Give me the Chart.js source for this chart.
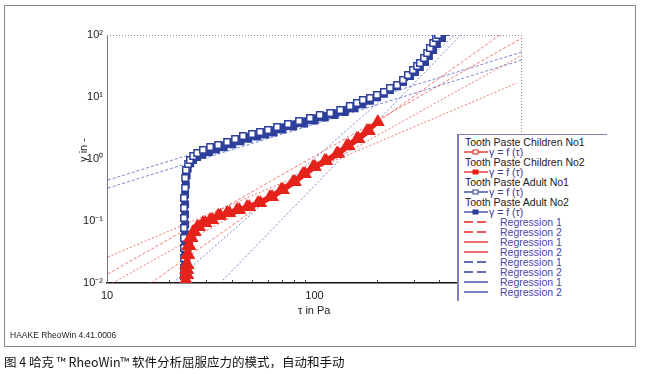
<!DOCTYPE html>
<html lang="zh">
<head>
<meta charset="UTF-8">
<title>RheoWin 屈服应力</title>
<script src="https://cdn.jsdelivr.net/npm/chart.js"></script>
<style>
  body { margin: 0; background: #fff; font-family: 'Liberation Sans', Arial, sans-serif; }
  #wrap { position: relative; width: 646px; height: 374px; overflow: hidden; }
  #frame { position: absolute; left: 4px; top: 5px; width: 632px; height: 342px; border: 1px solid #8a8a8a; box-sizing: border-box; }
  #chart-box { position: absolute; left: 0; top: 0; width: 646px; height: 374px; }
  .axis-title { position: absolute; font-size: 11px; color: #222; white-space: nowrap; }
  #ytitle { left: 65px; top: 144px; width: 36px; text-align: center; transform: rotate(-90deg); }
  #xtitle { left: 298px; top: 304px; }
  #legend { position: absolute; left: 457px; top: 135px; width: 176px; height: 166px; background: #fff;
            border-left: 2px solid #8080bb; box-sizing: border-box; font-size: 10.5px; padding-top: 2px; }
  #legend-top { position: absolute; left: 457px; top: 134px; width: 150px; height: 2px; background: #8080bb; }
  .row { height: 10px; line-height: 10px; white-space: nowrap; position: relative; }
  .row.title { padding-left: 6px; color: #222; }
  .row svg { position: absolute; left: 4px; top: 0; }
  .row .gf { position: absolute; left: 30px; color: #3a3a8c; }
  .row .reg { position: absolute; left: 41px; color: #4646a6; }
  #footer { position: absolute; left: 10px; top: 330px; font-size: 8.5px; color: #222; }
  #caption { position: absolute; left: 4px; top: 352px; font-size: 12.5px; color: #111;
             font-family: 'Noto Sans CJK SC', 'Liberation Sans', sans-serif; white-space: nowrap; }
</style>
</head>
<body>
<div id="wrap">
  <div id="frame"></div>
  <div id="chart-box"><canvas id="myChart"></canvas></div>
  <div class="axis-title" id="ytitle">γ in -</div>
  <div class="axis-title" id="xtitle">τ in Pa</div>
  <div id="legend-top"></div>
  <div id="legend"></div>
  <div id="footer">HAAKE RheoWin 4.41.0006</div>
  <div id="caption">图 4 哈克 ™ RheoWin™ 软件分析屈服应力的模式，自动和手动</div>
</div>
<script>
// axis ticks
const xTickValues = [10, 100, 1000];
const xTickLabels = ['10', '100', '1000'];
const xMinorTicks = [20, 30, 40, 50, 60, 70, 80, 90, 200, 300, 400, 500, 600, 700, 800, 900];
const yTickValues = [0.01, 0.1, 1, 10, 100];
const yTickLabels = ['10⁻²', '10⁻¹', '10⁰', '10¹', '10²'];

// Tooth Paste Children No1 / No2 (tau in Pa, gamma)
const childTau1 = [24.0, 24.0, 24.0, 24.0, 24.1, 24.3, 24.6, 25.1, 26.0, 27.2, 29.0, 31.4, 34.3, 37.9, 42.3, 47.3, 53.4, 61.0, 69.0, 78.8, 88.0, 98.4, 112, 128, 143, 160, 179, 202];
const childGamma1 = [0.0093, 0.0112, 0.0135, 0.0162, 0.0195, 0.0283, 0.0395, 0.0532, 0.0665, 0.080, 0.093, 0.104, 0.121, 0.135, 0.150, 0.168, 0.195, 0.244, 0.316, 0.426, 0.573, 0.743, 0.929, 1.21, 1.62, 2.10, 2.83, 3.95];
const childTau2 = [24.4, 24.4, 24.4, 24.5, 24.7, 25.0, 25.6, 26.5, 27.8, 29.8, 32.2, 35.2, 38.9, 43.4, 48.5, 54.8, 62.5, 70.5, 80.5, 90.0, 100.5, 114, 130, 146, 163, 183];
const childGamma2 = [0.0093, 0.0135, 0.0162, 0.0195, 0.0283, 0.0395, 0.0532, 0.0665, 0.080, 0.093, 0.104, 0.121, 0.135, 0.150, 0.168, 0.195, 0.244, 0.316, 0.426, 0.573, 0.743, 0.929, 1.21, 1.62, 2.10, 2.83];

// Tooth Paste Adult No1 / No2
const adultTau1 = [23.5, 23.5, 23.5, 23.5, 23.5, 23.5, 23.5, 23.5, 23.5, 23.8, 23.8, 24.0, 24.6, 25.1, 26.0, 27.2, 29.0, 31.4, 34.3, 37.9, 41.4, 45.2, 50.0, 54.6, 59.7, 66.0, 74.5, 84.2, 95.1, 106, 119, 133, 148, 160, 171, 185, 200, 216, 231, 250, 267, 282, 298, 312, 322, 337, 349, 360, 373, 385, 394, 403];
const adultGamma1 = [0.013, 0.0175, 0.0253, 0.0367, 0.0532, 0.0771, 0.112, 0.162, 0.235, 0.340, 0.494, 0.665, 0.830, 0.964, 1.12, 1.25, 1.40, 1.56, 1.68, 1.88, 2.10, 2.35, 2.53, 2.73, 2.94, 3.28, 3.67, 4.10, 4.58, 5.13, 5.52, 6.17, 7.16, 8.00, 8.95, 9.64, 10.8, 12.1, 14.0, 15.6, 18.8, 22.6, 27.3, 31.6, 35.3, 42.6, 51.3, 61.7, 74.3, 89.5, 100, 116];
const adultTau2 = [23.8, 23.8, 23.8, 23.8, 23.8, 23.8, 23.8, 23.8, 23.8, 24.0, 24.2, 24.5, 25.2, 26.0, 27.2, 28.8, 31.0, 33.5, 36.5, 40.2, 44.0, 48.0, 53.0, 58.0, 63.5, 70.0, 79.0, 89.0, 100, 112, 125, 140, 156, 170, 185, 200, 216, 231, 250, 267, 289, 305, 322, 341, 356, 373, 389, 412, 430];
const adultGamma2 = [0.015, 0.020, 0.029, 0.042, 0.061, 0.088, 0.128, 0.185, 0.268, 0.385, 0.540, 0.700, 0.850, 0.960, 1.07, 1.17, 1.29, 1.42, 1.55, 1.72, 1.92, 2.12, 2.30, 2.48, 2.68, 2.98, 3.33, 3.72, 4.18, 4.65, 5.10, 5.70, 6.55, 7.60, 8.70, 9.90, 11.3, 12.9, 14.9, 17.4, 21.8, 25.3, 30.5, 36.7, 45.8, 57.3, 71.6, 89.5, 112];

// regression lines (end points, tau / gamma)
const regChildDash1Tau = [16.3, 783], regChildDash1Gamma = [0.01, 100];
const regChildDash2Tau = [10.1, 1000], regChildDash2Gamma = [0.014, 89.5];
const regChildSolid1Tau = [10.6, 1000], regChildSolid1Gamma = [0.01, 47.6];
const regChildSolid2Tau = [10.1, 946], regChildSolid2Gamma = [0.0262, 16.8];
const regAdultDash1Tau = [10.1, 1000], regAdultDash1Gamma = [0.458, 53.2];
const regAdultDash2Tau = [10.1, 1000], regAdultDash2Gamma = [0.340, 39.5];
const regAdultSolid1Tau = [20.8, 475], regAdultSolid1Gamma = [0.01, 100];
const regAdultSolid2Tau = [35.1, 508], regAdultSolid2Gamma = [0.01, 100];

const RED = '#e5231b';
const BLUE = '#2c3f9a';
const RED_REG = 'rgba(232, 60, 50, 0.7)';
const BLUE_REG = 'rgba(70, 85, 190, 0.7)';

function pts(tau, gamma) {
    return tau.map((t, i) => ({ x: t, y: gamma[i] }));
}

function regLine(tau, gamma, color, dash) {
    return {
        label: 'Regression',
        data: pts(tau, gamma),
        showLine: true,
        borderColor: color,
        borderWidth: 1,
        borderDash: dash,
        pointRadius: 0,
        fill: false
    };
}

const datasets = [
    {
        label: 'Tooth Paste Children No1',
        data: pts(childTau1, childGamma1),
        showLine: true, borderColor: RED, borderWidth: 5,
        pointStyle: 'triangle', pointRadius: 3,
        pointBackgroundColor: RED, pointBorderColor: RED
    },
    {
        label: 'Tooth Paste Children No2',
        data: pts(childTau2, childGamma2),
        showLine: true, borderColor: RED, borderWidth: 5,
        pointStyle: 'triangle', pointRadius: 3,
        pointBackgroundColor: RED, pointBorderColor: RED
    },
    {
        label: 'Tooth Paste Adult No1',
        data: pts(adultTau1, adultGamma1),
        showLine: true, borderColor: BLUE, borderWidth: 4,
        pointStyle: 'rect', pointRadius: 4.5, pointBorderWidth: 1.5,
        pointBackgroundColor: '#ffffff', pointBorderColor: BLUE
    },
    {
        label: 'Tooth Paste Adult No2',
        data: pts(adultTau2, adultGamma2),
        showLine: true, borderColor: BLUE, borderWidth: 4,
        pointStyle: 'rect', pointRadius: 4.5, pointBorderWidth: 1.5,
        pointBackgroundColor: BLUE, pointBorderColor: BLUE
    },
    regLine(regChildDash1Tau, regChildDash1Gamma, RED_REG, [3, 2]),
    regLine(regChildDash2Tau, regChildDash2Gamma, RED_REG, [3, 2]),
    regLine(regChildSolid1Tau, regChildSolid1Gamma, RED_REG, [2, 2]),
    regLine(regChildSolid2Tau, regChildSolid2Gamma, RED_REG, [2, 2]),
    regLine(regAdultDash1Tau, regAdultDash1Gamma, BLUE_REG, [3, 2]),
    regLine(regAdultDash2Tau, regAdultDash2Gamma, BLUE_REG, [3, 2]),
    regLine(regAdultSolid1Tau, regAdultSolid1Gamma, BLUE_REG, [2, 2]),
    regLine(regAdultSolid2Tau, regAdultSolid2Gamma, BLUE_REG, [2, 2])
];

// dotted top/right frame of the plot + small inward ticks on the x axis
const plotFrame = {
    id: 'plotFrame',
    beforeDatasetsDraw(chart) {
        const { ctx, chartArea: a, scales } = chart;
        ctx.save();
        ctx.strokeStyle = '#8c8c8c';
        ctx.lineWidth = 1;
        ctx.setLineDash([1, 2]);
        ctx.beginPath();
        ctx.moveTo(a.left, a.top + 0.5);
        ctx.lineTo(a.right, a.top + 0.5);
        ctx.moveTo(a.right - 0.5, a.top);
        ctx.lineTo(a.right - 0.5, a.bottom);
        ctx.stroke();
        ctx.setLineDash([]);
        ctx.strokeStyle = '#333';
        ctx.beginPath();
        xMinorTicks.forEach(v => {
            const px = Math.round(scales.x.getPixelForValue(v)) + 0.5;
            ctx.moveTo(px, a.bottom);
            ctx.lineTo(px, a.bottom - 3);
        });
        ctx.stroke();
        ctx.restore();
    }
};

const ctx = document.getElementById('myChart').getContext('2d');
const myChart = new Chart(ctx, {
    type: 'scatter',
    data: { datasets: datasets },
    plugins: [plotFrame],
    options: {
        responsive: true,
        maintainAspectRatio: false,
        animation: false,
        layout: { padding: { top: 35, right: 124, left: 0, bottom: 0 } },
        plugins: { legend: { display: false }, tooltip: { enabled: false } },
        scales: {
            x: {
                type: 'logarithmic', min: 10, max: 1000,
                afterFit: s => { s.height = 91; },
                afterBuildTicks: s => { s.ticks = xTickValues.map(v => ({ value: v })); },
                grid: { display: false, drawTicks: false },
                border: { display: true, color: '#111', width: 1.5 },
                ticks: {
                    autoSkip: false, maxRotation: 0, padding: 6, color: '#222',
                    font: { family: 'Liberation Sans', size: 11 },
                    callback: (v, i) => xTickLabels[i]
                }
            },
            y: {
                type: 'logarithmic', min: 0.01, max: 100,
                afterFit: s => { s.width = 107; },
                afterBuildTicks: s => { s.ticks = yTickValues.map(v => ({ value: v })); },
                grid: { display: false, drawTicks: false },
                border: { display: true, color: '#777', width: 1, dash: [1, 3] },
                ticks: {
                    autoSkip: false, padding: 4, color: '#222',
                    font: { family: 'Liberation Sans', size: 11 },
                    callback: (v, i) => yTickLabels[i]
                }
            }
        }
    }
});

// legend (html)
const legendRows = [
    { title: 'Tooth Paste Children No1' },
    { color: RED, marker: 'open', text: 'γ = f (τ)' },
    { title: 'Tooth Paste Children No2' },
    { color: RED, marker: 'filled', text: 'γ = f (τ)' },
    { title: 'Tooth Paste Adult No1' },
    { color: BLUE, marker: 'open', text: 'γ = f (τ)' },
    { title: 'Tooth Paste Adult No2' },
    { color: BLUE, marker: 'filled', text: 'γ = f (τ)' },
    { color: RED, dash: true, reg: 'Regression 1' },
    { color: RED, dash: true, reg: 'Regression 2' },
    { color: RED, dash: false, reg: 'Regression 1' },
    { color: RED, dash: false, reg: 'Regression 2' },
    { color: BLUE, dash: true, reg: 'Regression 1' },
    { color: BLUE, dash: true, reg: 'Regression 2' },
    { color: BLUE, dash: false, reg: 'Regression 1' },
    { color: BLUE, dash: false, reg: 'Regression 2' }
];

const legend = document.getElementById('legend');
legendRows.forEach(r => {
    const row = document.createElement('div');
    if (r.title) {
        row.className = 'row title';
        row.textContent = r.title;
    } else if (r.text) {
        row.className = 'row';
        const fill = r.marker === 'filled' ? r.color : '#fff';
        row.innerHTML = '<svg width="26" height="10"><line x1="1" y1="5" x2="25" y2="5" stroke="' + r.color + '" stroke-width="1.3"/>' +
            '<rect x="10" y="3" width="5" height="4" fill="' + fill + '" stroke="' + r.color + '" stroke-width="1"/></svg>' +
            '<span class="gf">' + r.text + '</span>';
    } else {
        row.className = 'row';
        const dash = r.dash ? ' stroke-dasharray="9,4"' : '';
        row.innerHTML = '<svg width="26" height="10"><line x1="1" y1="5" x2="25" y2="5" stroke="' + r.color + '" stroke-width="1.3"' + dash + '/></svg>' +
            '<span class="reg">' + r.reg + '</span>';
    }
    legend.appendChild(row);
});
</script>
</body>
</html>
